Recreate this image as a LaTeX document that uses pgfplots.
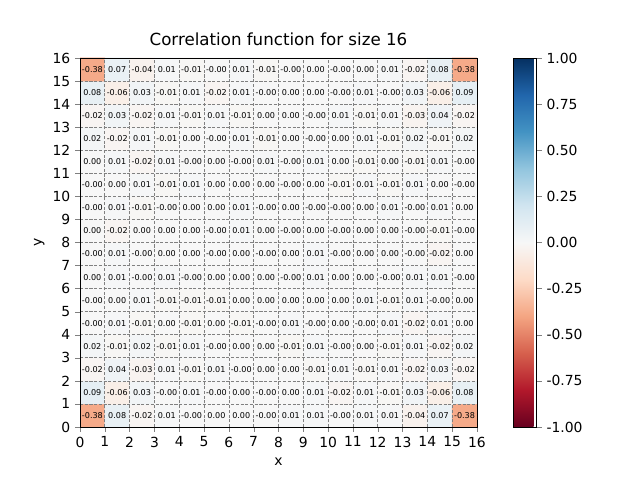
\documentclass[border=0pt]{standalone}
\usepackage{fontspec}
\setmainfont{DejaVu Sans}
\usepackage{pgfplots}
\usepackage{pgfplotstable}
\pgfplotsset{compat=1.18}
\pgfplotstableread{
x y c
0.5 0.5 -0.38
1.5 0.5 0.08
2.5 0.5 -0.02
3.5 0.5 0.01
4.5 0.5 -0.00
5.5 0.5 0.00
6.5 0.5 0.00
7.5 0.5 -0.00
8.5 0.5 0.01
9.5 0.5 0.01
10.5 0.5 -0.00
11.5 0.5 0.01
12.5 0.5 0.01
13.5 0.5 -0.04
14.5 0.5 0.07
15.5 0.5 -0.38
0.5 1.5 0.09
1.5 1.5 -0.06
2.5 1.5 0.03
3.5 1.5 -0.00
4.5 1.5 0.01
5.5 1.5 -0.00
6.5 1.5 0.00
7.5 1.5 -0.00
8.5 1.5 0.00
9.5 1.5 0.01
10.5 1.5 -0.02
11.5 1.5 0.01
12.5 1.5 -0.01
13.5 1.5 0.03
14.5 1.5 -0.06
15.5 1.5 0.08
0.5 2.5 -0.02
1.5 2.5 0.04
2.5 2.5 -0.03
3.5 2.5 0.01
4.5 2.5 -0.01
5.5 2.5 0.01
6.5 2.5 -0.00
7.5 2.5 0.00
8.5 2.5 0.00
9.5 2.5 -0.01
10.5 2.5 0.01
11.5 2.5 -0.01
12.5 2.5 0.01
13.5 2.5 -0.02
14.5 2.5 0.03
15.5 2.5 -0.02
0.5 3.5 0.02
1.5 3.5 -0.01
2.5 3.5 0.02
3.5 3.5 -0.01
4.5 3.5 0.01
5.5 3.5 -0.00
6.5 3.5 0.00
7.5 3.5 0.00
8.5 3.5 -0.01
9.5 3.5 0.01
10.5 3.5 -0.00
11.5 3.5 0.00
12.5 3.5 -0.01
13.5 3.5 0.01
14.5 3.5 -0.02
15.5 3.5 0.02
0.5 4.5 -0.00
1.5 4.5 0.01
2.5 4.5 -0.01
3.5 4.5 0.00
4.5 4.5 -0.01
5.5 4.5 0.00
6.5 4.5 -0.01
7.5 4.5 -0.00
8.5 4.5 0.01
9.5 4.5 -0.00
10.5 4.5 0.00
11.5 4.5 -0.00
12.5 4.5 0.01
13.5 4.5 -0.02
14.5 4.5 0.01
15.5 4.5 0.00
0.5 5.5 -0.00
1.5 5.5 0.00
2.5 5.5 0.01
3.5 5.5 -0.01
4.5 5.5 -0.01
5.5 5.5 -0.01
6.5 5.5 0.00
7.5 5.5 0.00
8.5 5.5 0.00
9.5 5.5 0.00
10.5 5.5 0.00
11.5 5.5 0.01
12.5 5.5 -0.01
13.5 5.5 0.01
14.5 5.5 -0.00
15.5 5.5 0.00
0.5 6.5 0.00
1.5 6.5 0.01
2.5 6.5 -0.00
3.5 6.5 0.01
4.5 6.5 -0.00
5.5 6.5 0.00
6.5 6.5 0.00
7.5 6.5 0.00
8.5 6.5 -0.00
9.5 6.5 0.01
10.5 6.5 0.00
11.5 6.5 0.00
12.5 6.5 -0.00
13.5 6.5 0.01
14.5 6.5 0.01
15.5 6.5 -0.00
0.5 7.5 -0.00
1.5 7.5 0.01
2.5 7.5 -0.00
3.5 7.5 0.00
4.5 7.5 0.00
5.5 7.5 -0.00
6.5 7.5 0.00
7.5 7.5 -0.00
8.5 7.5 0.00
9.5 7.5 0.01
10.5 7.5 -0.00
11.5 7.5 0.00
12.5 7.5 0.00
13.5 7.5 -0.00
14.5 7.5 -0.02
15.5 7.5 0.00
0.5 8.5 0.00
1.5 8.5 -0.02
2.5 8.5 0.00
3.5 8.5 0.00
4.5 8.5 0.00
5.5 8.5 -0.00
6.5 8.5 0.01
7.5 8.5 0.00
8.5 8.5 -0.00
9.5 8.5 0.00
10.5 8.5 -0.00
11.5 8.5 0.00
12.5 8.5 0.00
13.5 8.5 -0.00
14.5 8.5 -0.01
15.5 8.5 -0.00
0.5 9.5 -0.00
1.5 9.5 0.01
2.5 9.5 -0.01
3.5 9.5 -0.00
4.5 9.5 0.00
5.5 9.5 0.00
6.5 9.5 0.01
7.5 9.5 -0.00
8.5 9.5 0.00
9.5 9.5 -0.00
10.5 9.5 -0.00
11.5 9.5 0.00
12.5 9.5 0.01
13.5 9.5 -0.00
14.5 9.5 0.01
15.5 9.5 0.00
0.5 10.5 -0.00
1.5 10.5 0.00
2.5 10.5 0.01
3.5 10.5 -0.01
4.5 10.5 0.01
5.5 10.5 0.00
6.5 10.5 0.00
7.5 10.5 0.00
8.5 10.5 -0.00
9.5 10.5 0.00
10.5 10.5 -0.01
11.5 10.5 0.01
12.5 10.5 -0.01
13.5 10.5 0.01
14.5 10.5 0.00
15.5 10.5 -0.00
0.5 11.5 0.00
1.5 11.5 0.01
2.5 11.5 -0.02
3.5 11.5 0.01
4.5 11.5 -0.00
5.5 11.5 0.00
6.5 11.5 -0.00
7.5 11.5 0.01
8.5 11.5 -0.00
9.5 11.5 0.01
10.5 11.5 0.00
11.5 11.5 -0.01
12.5 11.5 0.00
13.5 11.5 -0.01
14.5 11.5 0.01
15.5 11.5 -0.00
0.5 12.5 0.02
1.5 12.5 -0.02
2.5 12.5 0.01
3.5 12.5 -0.01
4.5 12.5 0.00
5.5 12.5 -0.00
6.5 12.5 0.01
7.5 12.5 -0.01
8.5 12.5 0.00
9.5 12.5 -0.00
10.5 12.5 0.00
11.5 12.5 0.01
12.5 12.5 -0.01
13.5 12.5 0.02
14.5 12.5 -0.01
15.5 12.5 0.02
0.5 13.5 -0.02
1.5 13.5 0.03
2.5 13.5 -0.02
3.5 13.5 0.01
4.5 13.5 -0.01
5.5 13.5 0.01
6.5 13.5 -0.01
7.5 13.5 0.00
8.5 13.5 0.00
9.5 13.5 -0.00
10.5 13.5 0.01
11.5 13.5 -0.01
12.5 13.5 0.01
13.5 13.5 -0.03
14.5 13.5 0.04
15.5 13.5 -0.02
0.5 14.5 0.08
1.5 14.5 -0.06
2.5 14.5 0.03
3.5 14.5 -0.01
4.5 14.5 0.01
5.5 14.5 -0.02
6.5 14.5 0.01
7.5 14.5 -0.00
8.5 14.5 0.00
9.5 14.5 0.00
10.5 14.5 -0.00
11.5 14.5 0.01
12.5 14.5 -0.00
13.5 14.5 0.03
14.5 14.5 -0.06
15.5 14.5 0.09
0.5 15.5 -0.38
1.5 15.5 0.07
2.5 15.5 -0.04
3.5 15.5 0.01
4.5 15.5 -0.01
5.5 15.5 -0.00
6.5 15.5 0.01
7.5 15.5 -0.01
8.5 15.5 -0.00
9.5 15.5 0.00
10.5 15.5 -0.00
11.5 15.5 0.00
12.5 15.5 0.01
13.5 15.5 -0.02
14.5 15.5 0.08
15.5 15.5 -0.38
}\data

\begin{document}
\begin{tikzpicture}
\useasboundingbox (-57.6pt,-38.16pt) rectangle (403.2pt,307.44pt);
\begin{axis}[
  at={(0,0)}, anchor=south west,
  scale only axis, width=285.8pt, height=265.7pt,
  xmin=0, xmax=16, ymin=0, ymax=16,
  xtick={0,...,16}, ytick={0,...,16},
  tick align=outside, tick pos=left,
  major tick length=3.5pt,
  tick label style={font=\fontsize{10}{12}\selectfont},
  /pgf/number format/assume math mode=true,
  grid=major,
  major grid style={draw=gray, dash pattern=on 2.2pt off 1.2pt, line width=0.5pt},
  axis on top,
  axis line style={line width=0.6pt},
  title={Correlation function for size 16},
  title style={font=\fontsize{12}{14}\selectfont, yshift=-1pt},
  xlabel={x}, ylabel={y},
  label style={font=\fontsize{10}{12}\selectfont},
  xlabel style={yshift=-1pt},
  ylabel style={yshift=-1pt},
  colormap={rdbu}{rgb255=(103,0,31) rgb255=(178,24,43) rgb255=(214,96,77) rgb255=(244,165,130) rgb255=(253,219,199) rgb255=(247,247,247) rgb255=(209,229,240) rgb255=(146,197,222) rgb255=(67,147,195) rgb255=(33,102,172) rgb255=(5,48,97)},
  point meta min=-1, point meta max=1,
  colorbar,
  colorbar style={
    at={(parent axis.south east)}, anchor=south west, xshift=18pt,
    scale only axis, width=16.6pt, height=265.7pt,
    ytick={-1,-0.75,-0.5,-0.25,0,0.25,0.5,0.75,1},
    yticklabel style={/pgf/number format/.cd, fixed, fixed zerofill, precision=2, assume math mode=true},
    tick align=outside, ytick pos=right,
    major tick length=3.5pt,
    tick label style={font=\fontsize{10}{12}\selectfont},
    axis line style={line width=0.6pt},
  },
]
\addplot[matrix plot*, mesh/cols=16, point meta=explicit, shader=flat corner] table[x=x, y=y, meta=c] {\data};
\addplot[draw=none, mark=none, nodes near coords, point meta=explicit symbolic,
  every node near coord/.append style={anchor=center, inner sep=0pt, font=\fontsize{5.8}{7}\selectfont, text=black}]
  table[x=x, y=y, meta=c] {\data};
\end{axis}
\end{tikzpicture}
\end{document}
